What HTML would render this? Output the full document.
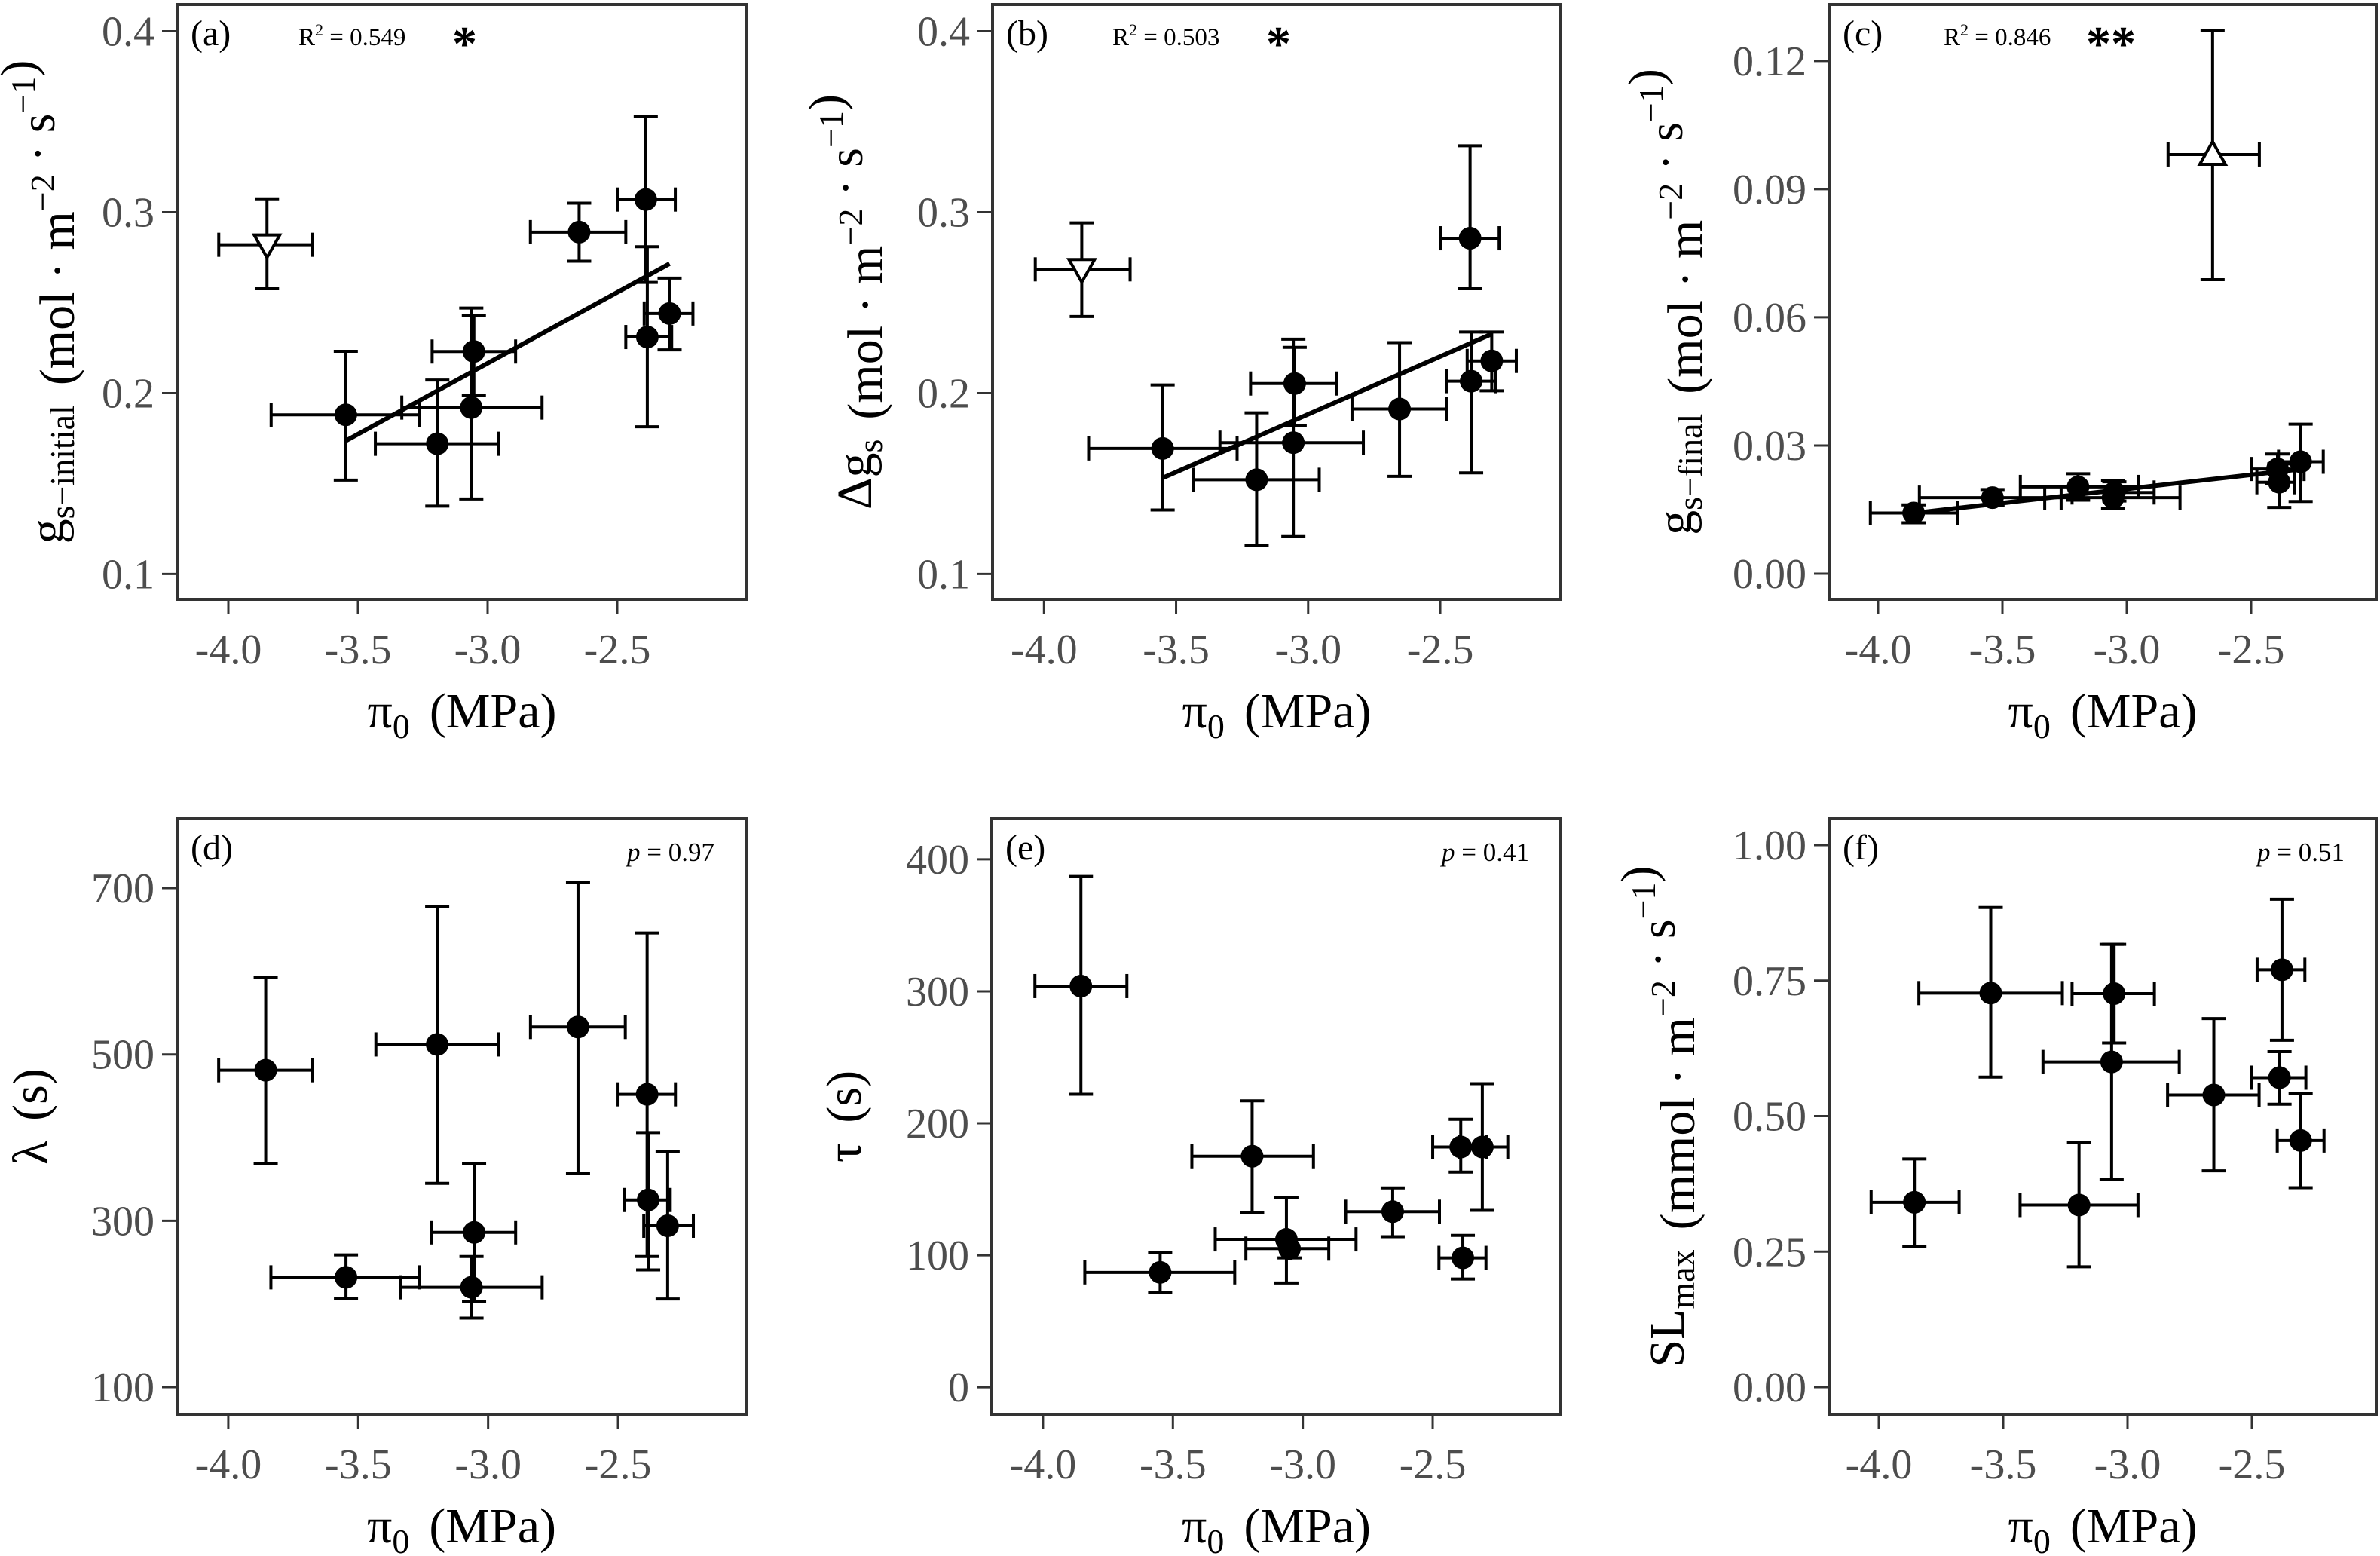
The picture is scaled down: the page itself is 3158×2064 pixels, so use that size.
<!DOCTYPE html>
<html><head><meta charset="utf-8"><style>
html,body{margin:0;padding:0;background:#fff;}
svg{display:block;}
text{font-family:"Liberation Serif",serif;}
</style></head><body>
<svg id="fig" width="3158" height="2064" viewBox="0 0 3158 2064" xmlns="http://www.w3.org/2000/svg" font-family="Liberation Serif, serif"></svg>
<script>
// ---- data (a) g_s-initial ----
const a_x   = [-3.851,-3.547,-3.194,-3.053,-3.063,-2.647,-2.390,-2.384,-2.298];
const a_y   = [0.282,0.188,0.172,0.223,0.192,0.289,0.307,0.231,0.244];
const a_xlo = [-4.037,-3.835,-3.433,-3.214,-3.331,-2.835,-2.498,-2.467,-2.396];
const a_xhi = [-3.676,-3.263,-2.957,-2.892,-2.790,-2.467,-2.276,-2.290,-2.208];
const a_ylo = [0.2577,0.1519,0.1375,0.1987,0.1415,0.2729,0.2612,0.1814,0.2239];
const a_yhi = [0.3074,0.2231,0.2072,0.2430,0.2470,0.3050,0.3527,0.2809,0.2636];
const a_shape = ["down","dot","dot","dot","dot","dot","dot","dot","dot"];
const a_fit = [0.4517,0.0784];
// ---- data (b) delta g_s ----
const b_x   = [-3.857,-3.551,-3.195,-3.051,-3.056,-2.654,-2.387,-2.383,-2.305];
const b_y   = [0.2684,0.1694,0.1521,0.2053,0.1726,0.1912,0.2856,0.2066,0.2178];
const b_xlo = [-4.033,-3.831,-3.433,-3.218,-3.334,-2.834,-2.500,-2.476,-2.398];
const b_xhi = [-3.674,-3.269,-2.958,-2.893,-2.791,-2.476,-2.277,-2.290,-2.212];
const b_ylo = [0.2423,0.1354,0.1160,0.1819,0.1207,0.1540,0.2577,0.1559,0.2013];
const b_yhi = [0.2941,0.2045,0.1891,0.2253,0.2298,0.2279,0.3367,0.2338,0.2338];
const b_shape = ["down","dot","dot","dot","dot","dot","dot","dot","dot"];
const b_fit = [0.3800,0.0639];
// ---- data (c) g_s-final ----
const c_x   = [-2.655,-3.857,-3.540,-3.196,-3.050,-3.055,-2.394,-2.387,-2.301];
const c_y   = [0.0981,0.0142,0.0178,0.0203,0.0190,0.0178,0.0245,0.0214,0.0262];
const c_xlo = [-2.834,-4.031,-3.834,-3.428,-3.220,-3.330,-2.500,-2.477,-2.390];
const c_xhi = [-2.467,-3.679,-3.264,-2.954,-2.890,-2.786,-2.287,-2.326,-2.210];
const c_ylo = [0.0688,0.0119,0.0159,0.0172,0.0170,0.0153,0.0210,0.0155,0.0169];
const c_yhi = [0.1272,0.0161,0.0197,0.0234,0.0215,0.0217,0.0280,0.0257,0.0350];
const c_shape = ["up","dot","dot","dot","dot","dot","dot","dot","dot"];
const c_fit = [0.0397,0.00662];
// ---- data (d) lambda ----
const d_x   = [-3.856,-3.547,-3.196,-3.054,-3.064,-2.654,-2.388,-2.384,-2.309];
const d_y   = [481,232,512,286,220,533,452,325,294];
const d_xlo = [-4.037,-3.836,-3.432,-3.219,-3.338,-2.837,-2.500,-2.476,-2.401];
const d_xhi = [-3.677,-3.265,-2.959,-2.894,-2.792,-2.472,-2.279,-2.299,-2.210];
const d_ylo = [369,207,345,203,183,357,257,241,206];
const d_yhi = [593,259,678,369,257,707,646,406,383];
// ---- data (e) tau ----
const e_x   = [-3.854,-3.549,-3.195,-3.063,-3.051,-2.654,-2.392,-2.309,-2.384];
const e_y   = [304,87,175,112,105,133,182,182,98];
const e_xlo = [-4.031,-3.839,-3.427,-3.337,-3.219,-2.835,-2.500,-2.398,-2.476];
const e_xhi = [-3.677,-3.262,-2.959,-2.795,-2.900,-2.474,-2.293,-2.211,-2.295];
const e_ylo = [222,72,132,79,98,114,163,134,82];
const e_yhi = [387,102,217,144,112,151,203,230,115];
// ---- data (f) SLmax ----
const f_x   = [-3.857,-3.550,-3.195,-3.054,-3.064,-2.653,-2.379,-2.389,-2.304];
const f_y   = [0.341,0.727,0.336,0.726,0.600,0.539,0.770,0.571,0.455];
const f_xlo = [-4.031,-3.839,-3.432,-3.223,-3.340,-2.839,-2.479,-2.502,-2.398];
const f_xhi = [-3.677,-3.262,-2.958,-2.892,-2.792,-2.471,-2.287,-2.283,-2.210];
const f_ylo = [0.259,0.572,0.222,0.635,0.383,0.399,0.640,0.522,0.368];
const f_yhi = [0.421,0.885,0.451,0.817,0.817,0.680,0.900,0.619,0.541];
// ticks
const xTicks = [-4.0,-3.5,-3.0,-2.5];
const xTickLabels = ["-4.0","-3.5","-3.0","-2.5"];
const abTicks = [0.1,0.2,0.3,0.4];
const abTickLabels = ["0.1","0.2","0.3","0.4"];
const cTicks = [0,0.03,0.06,0.09,0.12];
const cTickLabels = ["0.00","0.03","0.06","0.09","0.12"];
const dTicks = [100,300,500,700];
const dTickLabels = ["100","300","500","700"];
const eTicks = [0,100,200,300,400];
const eTickLabels = ["0","100","200","300","400"];
const fTicks = [0,0.25,0.5,0.75,1.0];
const fTickLabels = ["0.00","0.25","0.50","0.75","1.00"];

const NS="http://www.w3.org/2000/svg";
const svg=document.getElementById('fig');
const SERIF='Liberation Serif, serif';
function mk(tag,attrs,parent){const e=document.createElementNS(NS,tag);for(const k in attrs)e.setAttribute(k,attrs[k]);if(tag==='text'&&!attrs['font-family'])e.setAttribute('font-family',SERIF);(parent||svg).appendChild(e);return e;}

const panels=[
 {id:'a',l:235,r:991,t:6,b:795,xd:[-4.1977,-2.0],yd:[0.0860,0.4148],x:a_x,y:a_y,xlo:a_xlo,xhi:a_xhi,ylo:a_ylo,yhi:a_yhi,shape:a_shape,fit:a_fit,ticks:abTicks,tl:abTickLabels,
  ytitle:[["g",""],["s−initial","sub"],["(mol · m","gap"],["−2","sup"],[" · s",""],["−1","sup"],[")",""]],ytx:62,stat:"0.549",statX:396,star:"*",starX:600},
 {id:'b',l:1317,r:2071,t:6,b:795,xd:[-4.1948,-2.0436],yd:[0.0860,0.4148],x:b_x,y:b_y,xlo:b_xlo,xhi:b_xhi,ylo:b_ylo,yhi:b_yhi,shape:b_shape,fit:b_fit,ticks:abTicks,tl:abTickLabels,
  ytitle:[["Δg",""],["s","sub"],["(mol · m","gap"],["−2","sup"],[" · s",""],["−1","sup"],[")",""]],ytx:1134,stat:"0.503",statX:1476,star:"*",starX:1680},
 {id:'c',l:2427,r:3153,t:6,b:795,xd:[-4.197,-1.997],yd:[-0.0060,0.1332],x:c_x,y:c_y,xlo:c_xlo,xhi:c_xhi,ylo:c_ylo,yhi:c_yhi,shape:c_shape,fit:c_fit,ticks:cTicks,tl:cTickLabels,
  ytitle:[["g",""],["s−final","sub"],["(mol · m","gap"],["−2","sup"],[" · s",""],["−1","sup"],[")",""]],ytx:2222,stat:"0.846",statX:2579,star:"**",starX:2768},
 {id:'d',l:235,r:990,t:1086,b:1876,xd:[-4.197,-2.007],yd:[67.4,783.4],x:d_x,y:d_y,xlo:d_xlo,xhi:d_xhi,ylo:d_ylo,yhi:d_yhi,ticks:dTicks,tl:dTickLabels,
  ytitle:[["λ",""],["(s)","gap"]],ytx:40,pval:"0.97"},
 {id:'e',l:1316,r:2071,t:1086,b:1876,xd:[-4.197,-2.007],yd:[-20.5,430.8],x:e_x,y:e_y,xlo:e_xlo,xhi:e_xhi,ylo:e_ylo,yhi:e_yhi,ticks:eTicks,tl:eTickLabels,
  ytitle:[["τ",""],["(s)","gap"]],ytx:1120,pval:"0.41"},
 {id:'f',l:2427,r:3153,t:1086,b:1876,xd:[-4.2,-2.0],yd:[-0.05,1.0487],x:f_x,y:f_y,xlo:f_xlo,xhi:f_xhi,ylo:f_ylo,yhi:f_yhi,ticks:fTicks,tl:fTickLabels,
  ytitle:[["SL",""],["max","sub"],["(mmol · m","gap"],["−2","sup"],[" · s",""],["−1","sup"],[")",""]],ytx:2212,pval:"0.51"}
];

panels.forEach(p=>{
  const X=v=>p.l+(v-p.xd[0])/(p.xd[1]-p.xd[0])*(p.r-p.l);
  const Y=v=>p.b-(v-p.yd[0])/(p.yd[1]-p.yd[0])*(p.b-p.t);
  const g=mk('g',{});
  
  
  xTicks.forEach((v,i)=>{
    const t=mk('line',{x1:X(v),x2:X(v),y1:p.b,y2:p.b+20,stroke:'#333','stroke-width':3},g);
    
    
    const tx=mk('text',{x:X(v),y:p.b+85,'text-anchor':'middle','font-size':56,fill:'#4d4d4d'},g);
    tx.textContent=xTickLabels[i];
    
    
  });
  p.ticks.forEach((v,i)=>{
    const t=mk('line',{x1:p.l-20,x2:p.l,y1:Y(v),y2:Y(v),stroke:'#333','stroke-width':3},g);
    
    
    const tx=mk('text',{x:p.l-30,y:Y(v)+19,'text-anchor':'end','font-size':56,fill:'#4d4d4d'},g);
    tx.textContent=p.tl[i];
    
    
  });
  const xt=mk('text',{x:(p.l+p.r)/2,y:p.b+170,'text-anchor':'middle','font-size':66,fill:'#000'},g);
  
  
  xt.innerHTML='π<tspan font-size="46" dy="14">0</tspan><tspan dy="-14" dx="26">(MPa)</tspan>';
  const cy=(p.t+p.b)/2;
  const yt=mk('text',{x:0,y:0,'text-anchor':'middle','font-size':66,fill:'#000',transform:`translate(${p.ytx+22},${cy}) rotate(-90)`},g);
  
  
  let html='';
  p.ytitle.forEach(([s,k])=>{
    if(k==='sub') html+=`<tspan font-size="46" dy="14">${s}</tspan><tspan dy="-14"></tspan>`;
    else if(k==='sup') html+=`<tspan font-size="46" dy="-26">${s}</tspan><tspan dy="26"></tspan>`;
    else if(k==='gap') html+=`<tspan dx="26">${s}</tspan>`;
    else html+=`<tspan>${s}</tspan>`;
  });
  yt.innerHTML=html;
  const cap=16;
  p.x.forEach((xv,i)=>{
    const eb=mk('g',{stroke:'#000','stroke-width':4,fill:'none'},g);
    
    
    const px=X(xv),py=Y(p.y[i]);
    mk('line',{x1:px,x2:px,y1:Y(p.ylo[i]),y2:Y(p.yhi[i])},eb);
    mk('line',{x1:px-cap,x2:px+cap,y1:Y(p.ylo[i]),y2:Y(p.ylo[i])},eb);
    mk('line',{x1:px-cap,x2:px+cap,y1:Y(p.yhi[i]),y2:Y(p.yhi[i])},eb);
    mk('line',{x1:X(p.xlo[i]),x2:X(p.xhi[i]),y1:py,y2:py},eb);
    mk('line',{x1:X(p.xlo[i]),x2:X(p.xlo[i]),y1:py-cap,y2:py+cap},eb);
    mk('line',{x1:X(p.xhi[i]),x2:X(p.xhi[i]),y1:py-cap,y2:py+cap},eb);
  });
  if(p.fit){
    const fx=p.x.filter((v,i)=>p.shape[i]==='dot');
    const x0=Math.min(...fx),x1=Math.max(...fx);
    const ln=mk('line',{x1:X(x0),y1:Y(p.fit[0]+p.fit[1]*x0),x2:X(x1),y2:Y(p.fit[0]+p.fit[1]*x1),stroke:'#000','stroke-width':6},g);
    
    
  }
  p.x.forEach((xv,i)=>{
    const px=X(xv),py=Y(p.y[i]);
    const sh=p.shape?p.shape[i]:'dot';
    let m;
    if(sh==='dot'){ m=mk('circle',{cx:px,cy:py,r:15,fill:'#000'},g); }
    else if(sh==='down'){ m=mk('polygon',{points:`${px-17},${py-13} ${px+17},${py-13} ${px},${py+17}`,fill:'#fff',stroke:'#000','stroke-width':4},g); }
    else { m=mk('polygon',{points:`${px-17},${py+13} ${px+17},${py+13} ${px},${py-17}`,fill:'#fff',stroke:'#000','stroke-width':4},g); }
    
    
  });
  const fr=mk('rect',{x:p.l,y:p.t,width:p.r-p.l,height:p.b-p.t,fill:'none',stroke:'#333','stroke-width':4},g);
  
  
  const lb=mk('text',{x:p.l+18,y:p.t+54,'font-size':48,fill:'#000'},g);
  lb.textContent='('+p.id+')';
  
  
  if(p.stat){
    const st=mk('text',{x:p.statX,y:p.t+54,'font-size':33,fill:'#000'},g);
    st.innerHTML='R<tspan font-size="22" dy="-13">2</tspan><tspan dy="13"> = '+p.stat+'</tspan>';
    
    
    const sr=mk('text',{x:p.starX,y:p.t+74,'font-size':66,'font-weight':'bold','font-family':'Liberation Sans, sans-serif',fill:'#000'},g);
    sr.textContent=p.star;
    
    
  }
  if(p.pval){
    const pv=mk('text',{x:p.r-42,y:p.t+56,'text-anchor':'end','font-size':35,fill:'#000'},g);
    pv.innerHTML='<tspan font-style="italic">p</tspan> = '+p.pval;
    
    
  }
});
</script>
</body></html>
